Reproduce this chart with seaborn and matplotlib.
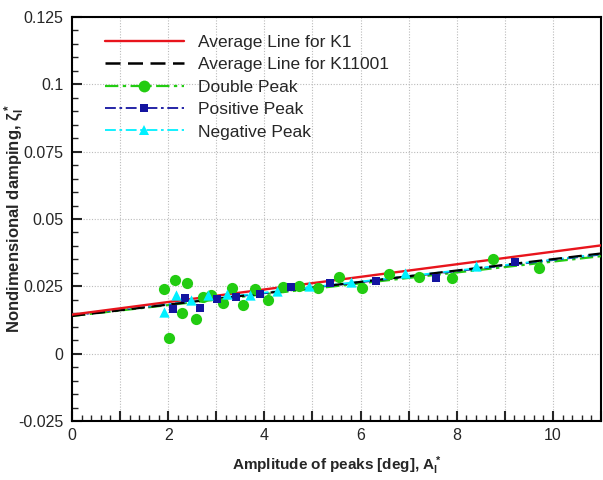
import numpy as np
import pandas as pd
import matplotlib
matplotlib.use("Agg")
import matplotlib.pyplot as plt
from matplotlib.lines import Line2D
from matplotlib.ticker import MultipleLocator
import seaborn as sns

# ---- data ----
double_x = [1.92, 2.14, 2.40, 2.28, 2.01, 2.57, 2.73, 2.90, 3.13, 3.33, 3.55, 3.80,
            4.07, 4.38, 4.73, 5.12, 5.56, 6.04, 6.59, 7.22, 7.90, 8.75, 9.72]
double_y = [0.0241, 0.0272, 0.0263, 0.0151, 0.0058, 0.0129, 0.0212, 0.0218, 0.0187,
            0.0244, 0.0179, 0.0241, 0.0201, 0.0247, 0.0253, 0.0243, 0.0284, 0.0244,
            0.0297, 0.0284, 0.0280, 0.0353, 0.0318]

pos_x = [2.09, 2.36, 2.66, 3.01, 3.40, 3.91, 4.55, 5.36, 6.33, 7.57, 9.21]
pos_y = [0.0166, 0.0206, 0.0170, 0.0203, 0.0209, 0.0222, 0.0249, 0.0263, 0.0268,
         0.0282, 0.0340]

neg_x = [1.92, 2.16, 2.47, 2.82, 3.22, 3.70, 4.26, 4.93, 5.81, 6.92, 8.40]
neg_y = [0.0156, 0.0216, 0.0201, 0.0218, 0.0222, 0.0216, 0.0231, 0.0253, 0.0265,
         0.0299, 0.0325]

line_x = [0, 11]
k1_line = [0.0145, 0.0402]
k11001_line = [0.0140, 0.0372]
double_fit = [0.0140, 0.0362]
pos_fit = [0.0142, 0.0368]
neg_fit = [0.0145, 0.0370]

labels = ["Average Line for K1", "Average Line for K11001", "Double Peak",
          "Positive Peak", "Negative Peak"]

RED = "#e8141c"
BLACK = "#000000"
GREEN = "#22cc11"
BLUE = "#1414a0"
CYAN = "#00f0ff"

sns.set_style("ticks")
plt.rcParams["font.family"] = ["Liberation Sans", "DejaVu Sans"]
plt.rcParams["mathtext.fontset"] = "custom"
plt.rcParams["mathtext.rm"] = "Liberation Sans"
plt.rcParams["mathtext.bf"] = "Liberation Sans:bold"
plt.rcParams["mathtext.it"] = "Liberation Sans:italic"

fig = plt.figure(figsize=(6.03, 4.80), dpi=100)
ax = fig.add_axes([72 / 603, 1 - 421 / 480, (601 - 72) / 603, (421 - 17) / 480])

def line_df(y):
    return pd.DataFrame({"x": line_x, "y": y})

dash_dot = (0, (6, 2, 1.5, 2))
sns.lineplot(data=line_df(double_fit), x="x", y="y", ax=ax, color=GREEN, lw=1.6,
             linestyle=dash_dot, zorder=3)
sns.lineplot(data=line_df(pos_fit), x="x", y="y", ax=ax, color=BLUE, lw=1.3,
             linestyle=dash_dot, zorder=3)
sns.lineplot(data=line_df(neg_fit), x="x", y="y", ax=ax, color=CYAN, lw=1.3,
             linestyle=dash_dot, zorder=3)
sns.lineplot(data=line_df(k11001_line), x="x", y="y", ax=ax, color=BLACK, lw=1.6,
             linestyle=(0, (6, 3)), zorder=3)
sns.lineplot(data=line_df(k1_line), x="x", y="y", ax=ax, color=RED, lw=1.7,
             linestyle="-", zorder=3)

sns.scatterplot(x=double_x, y=double_y, ax=ax, color=GREEN, marker="o", s=65,
                edgecolor=GREEN, linewidth=0, zorder=4)
sns.scatterplot(x=pos_x, y=pos_y, ax=ax, color=BLUE, marker="s", s=40,
                edgecolor=BLUE, linewidth=0, zorder=5)
sns.scatterplot(x=neg_x, y=neg_y, ax=ax, color=CYAN, marker="^", s=55,
                edgecolor=CYAN, linewidth=0, zorder=6)

ax.set_xlim(0, 11)
ax.set_ylim(-0.025, 0.125)
ax.xaxis.set_minor_locator(MultipleLocator(0.2))
ax.yaxis.set_minor_locator(MultipleLocator(0.005))
ax.set_xticks([0, 1, 2, 3, 4, 5, 6, 7, 8, 9, 10, 11])
ax.set_xticklabels(["0", "", "2", "", "4", "", "6", "", "8", "", "10", ""])
ax.set_yticks([-0.025, 0, 0.025, 0.05, 0.075, 0.1, 0.125])
ax.set_yticklabels(["-0.025", "0", "0.025", "0.05", "0.075", "0.1", "0.125"])

ax.tick_params(axis="both", which="major", direction="in", length=7, width=1.5,
               labelsize=11.5, top=False, right=False)
ax.tick_params(axis="y", which="major", pad=6)
ax.tick_params(axis="x", which="major", pad=5)
ax.tick_params(axis="both", which="minor", direction="in", length=4, width=1.0,
               top=False, right=False)
ax.grid(True, which="major", color="#bbbbbb", linestyle=(0, (1, 1.5)), lw=0.8)
for sp in ax.spines.values():
    sp.set_linewidth(1.5)
    sp.set_color("black")

ax.set_xlabel(r"Amplitude of peaks [deg], $\mathbf{A_l^*}$", fontsize=11,
              fontweight="bold")
ax.set_ylabel(r"Nondimensional damping, $\mathbf{\zeta_l^*}$", fontsize=12,
              fontweight="bold")
ax.xaxis.set_label_coords(0.5, -0.111)
ax.yaxis.set_label_coords(-0.109, 0.5)
ax.xaxis.label.set_verticalalignment("center")
ax.yaxis.label.set_verticalalignment("center")

handles = [
    Line2D([], [], color=RED, lw=1.7, linestyle="-"),
    Line2D([], [], color=BLACK, lw=1.8, linestyle=(0, (6, 3))),
    Line2D([], [], color=GREEN, lw=1.6, linestyle=dash_dot, marker="o",
           markersize=8.5, markeredgewidth=0),
    Line2D([], [], color=BLUE, lw=1.3, linestyle=dash_dot, marker="s",
           markersize=6, markeredgewidth=0),
    Line2D([], [], color=CYAN, lw=1.3, linestyle=dash_dot, marker="^",
           markersize=7.5, markeredgewidth=0),
]
leg = ax.legend(handles, labels, loc="upper left", frameon=False, fontsize=12.5,
                handlelength=4.6, numpoints=1, labelspacing=0.42,
                bbox_to_anchor=(0.032, 0.995), handletextpad=0.8, borderpad=0.4)

fig.savefig("out.png", dpi=100)
